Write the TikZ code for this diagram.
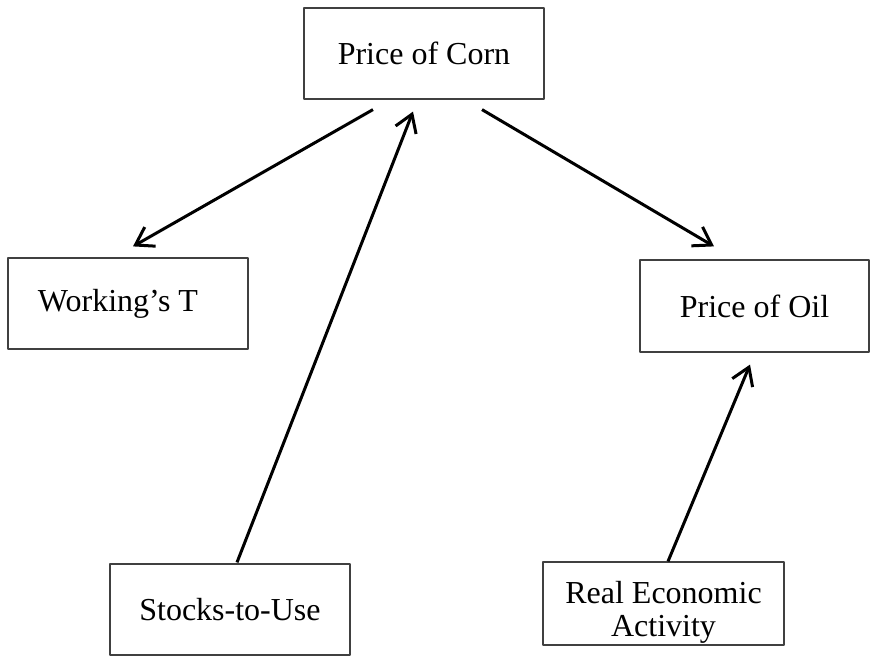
\documentclass[tikz,border=0pt]{standalone}
\usepackage{fontspec}
\setmainfont{Liberation Serif}
\usepackage{tikz}
\usetikzlibrary{positioning}
\usetikzlibrary{arrows.meta}

\begin{document}
\begin{tikzpicture}[>={Straight Barb[length=17pt,width=22pt]},line join=bevel,x=1pt,y=1pt,
        factor/.style={rectangle,draw=black!75,line width=1.2pt,inner sep=0pt,minimum width=240pt,minimum height=91pt,font=\fontsize{32pt}{33pt}\selectfont},
        link/.style={color=black,line width=3pt,->}]
        \useasboundingbox (0,0) rectangle (871,656);
        %
        \node[align=center] (corn) at (424,602.5) [factor] {Price of Corn};
        \node[align=center] (working) at (128,352.5) [factor] {Working's T\hspace*{20pt}};
        \node[align=center] (oil) at (754.5,350) [factor,minimum width=229pt,minimum height=92pt] {Price of Oil};
        \node[align=center] (stocks) at (230,46.5) [factor] {Stocks-to-Use};
        \node[align=center] (activity) at (663.5,52.5) [factor,minimum width=241pt,minimum height=83pt] {\rule{0pt}{40pt}Real Economic\\Activity};
        %
        \draw [link] ([xshift=-51pt,yshift=-10pt]corn.south) to ([xshift=5pt,yshift=11pt]working.north);
        \draw [link] ([xshift=58pt,yshift=-10pt]corn.south) to ([xshift=-40.5pt,yshift=13pt]oil.north);
        \draw [link] ([xshift=7pt,yshift=1pt]stocks.north) to ([xshift=-11pt,yshift=-12pt]corn.south);
        \draw [link] ([xshift=4.5pt]activity.north) to ([xshift=-4.5pt,yshift=-12pt]oil.south);
        %
\end{tikzpicture}
\end{document}
